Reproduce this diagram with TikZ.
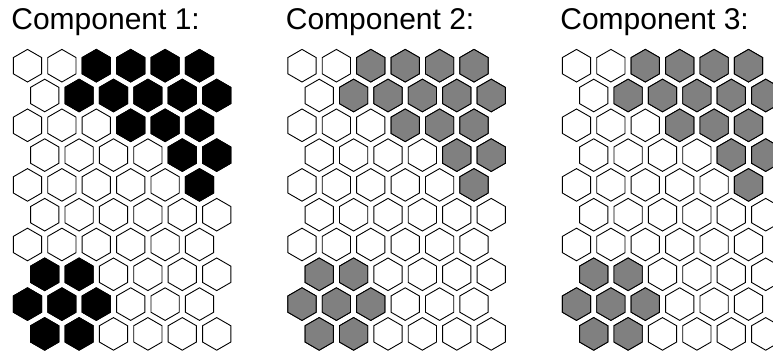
\documentclass[tikz,border=0pt]{standalone}
\usepackage{fontspec}
\setmainfont{Liberation Sans}
\usepackage{xcolor}
\usetikzlibrary{calc}
\definecolor{cellgray}{gray}{0.5}

% one hexagon (pointy top) at centre #1,#2 with style #3
\newcommand{\hexat}[3]{%
  \draw[#3] (#1,#2) +(90:16.3) -- +(150:16.3) -- +(210:16.3) -- +(270:16.3)
    -- +(330:16.3) -- +(30:16.3) -- cycle;}

\begin{document}
\begin{tikzpicture}[x=1pt,y=1pt,
    cell/.style={draw=black, line width=0.9pt, fill=white},
    title/.style={anchor=base west, inner sep=0pt, font=\fontsize{30}{36}\selectfont}]
  \useasboundingbox (0,0) rectangle (773,358);
  \clip (0,0) rectangle (773,358);
  \foreach \k/\col in {0/black,1/cellgray,2/cellgray} {
    \pgfmathsetmacro{\ox}{27.5+274.5*\k}
    \pgfmathtruncatemacro{\num}{\k+1}
    % Label the component
    \node[title] (title\num) at (\ox-16.3,328) {Component \num:};
    % Draw the empty board
    \foreach \r in {0,...,9} {
      \foreach \c in {0,...,5} {
        \pgfmathsetmacro{\cx}{\ox+\c*34.4+mod(\r,2)*17.2}
        \pgfmathsetmacro{\cy}{292.3-\r*29.8}
        \hexat{\cx}{\cy}{cell}
      }
    }
    % Fill the cells of the component
    \foreach \r/\c in {0/2,0/3,0/4,0/5,1/1,1/2,1/3,1/4,1/5,2/3,2/4,2/5,3/4,3/5,4/5,
                       7/0,7/1,8/0,8/1,8/2,9/0,9/1} {
      \pgfmathsetmacro{\cx}{\ox+\c*34.4+mod(\r,2)*17.2}
      \pgfmathsetmacro{\cy}{292.3-\r*29.8}
      \hexat{\cx}{\cy}{cell, fill=\col}
    }
  }
\end{tikzpicture}
\end{document}
